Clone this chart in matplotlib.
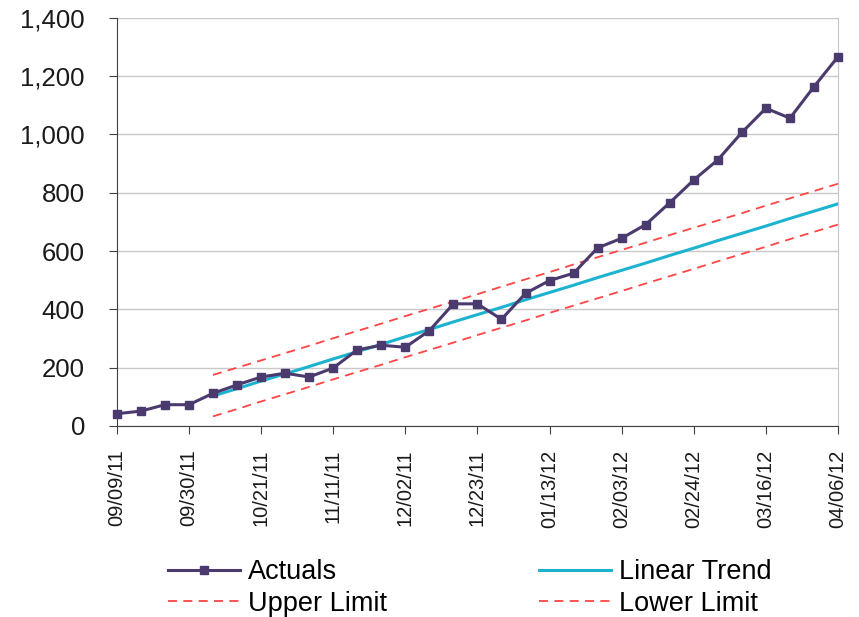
import pandas as pd
import numpy as np
import matplotlib
matplotlib.use('Agg')
import matplotlib.pyplot as plt
from matplotlib.ticker import FuncFormatter

plt.rcParams['font.family'] = ['Liberation Sans', 'DejaVu Sans']

# weekly dates, 09/09/11 .. 04/06/12
dates = pd.date_range('2011-09-09', '2012-04-06', freq='7D')
actuals = [42, 51, 73, 73, 112, 141, 168, 181, 168, 199, 261, 277, 270, 327, 419,
           419, 366, 455, 499, 524, 611, 644, 691, 766, 844, 913, 1007, 1090, 1056,
           1164, 1267]

# trend and limits start at the 5th week
trend_dates = dates[4:]
trend = [103, 128, 154, 179, 204, 230, 255, 280, 306, 331, 357, 382, 407, 433,
         458, 483, 509, 534, 559, 585, 610, 636, 661, 686, 712, 737, 762]
upper = [175, 200, 225, 250, 275, 301, 326, 351, 377, 402, 427, 452, 478, 503,
         528, 554, 579, 604, 629, 655, 680, 705, 730, 756, 781, 806, 831]
lower = [33, 58, 84, 109, 134, 160, 185, 210, 236, 261, 286, 312, 337, 362,
         388, 413, 438, 463, 489, 514, 539, 565, 590, 615, 641, 666, 691]

fig = plt.figure(figsize=[8.59, 6.17], dpi=100)
ax = fig.add_axes([0.136, 0.3096, 0.8396, 0.6614])

ax.plot(dates, actuals, color='#4B3A6E', lw=2.2, marker='s', ms=5.5,
        label='Actuals', clip_on=False, zorder=4)
ax.plot(trend_dates, upper, color='#FF4545', lw=1.3, ls=(0, (5, 3.5)),
        label='Upper Limit', zorder=3)
ax.plot(trend_dates, trend, color='#1DB3D0', lw=2.2, label='Linear Trend', zorder=3)
ax.plot(trend_dates, lower, color='#FF4545', lw=1.3, ls=(0, (5, 3.5)),
        label='Lower Limit', zorder=3)

ax.set_xlim(dates[0], dates[-1])
ax.set_ylim(0, 1400)
ax.set_yticks(np.arange(0, 1401, 200))
ax.yaxis.set_major_formatter(FuncFormatter(lambda v, p: f'{int(v):,}'))
ax.set_xticks(dates[::3])
ax.set_xticklabels([d.strftime('%m/%d/%y') for d in dates[::3]], rotation=90)

ax.grid(axis='y', color='#C8C8C8', lw=1)
ax.set_axisbelow(True)
ax.spines['top'].set_visible(False)
ax.spines['right'].set_color('#C8C8C8')
ax.spines['left'].set_color('#404040')
ax.spines['bottom'].set_color('#404040')
ax.tick_params(axis='y', labelsize=18.5, length=6, pad=17, color='#404040', labelcolor='#1a1a1a')
ax.tick_params(axis='x', labelsize=14.5, length=6, pad=11, color='#404040', labelcolor='#1a1a1a')

fig.legend(loc='center', bbox_to_anchor=(470 / 859, 0.047), ncol=2, frameon=False,
           fontsize=19.5, handlelength=2.65, handletextpad=0.3, columnspacing=5.6,
           labelspacing=0.2)

fig.savefig('out.png')
